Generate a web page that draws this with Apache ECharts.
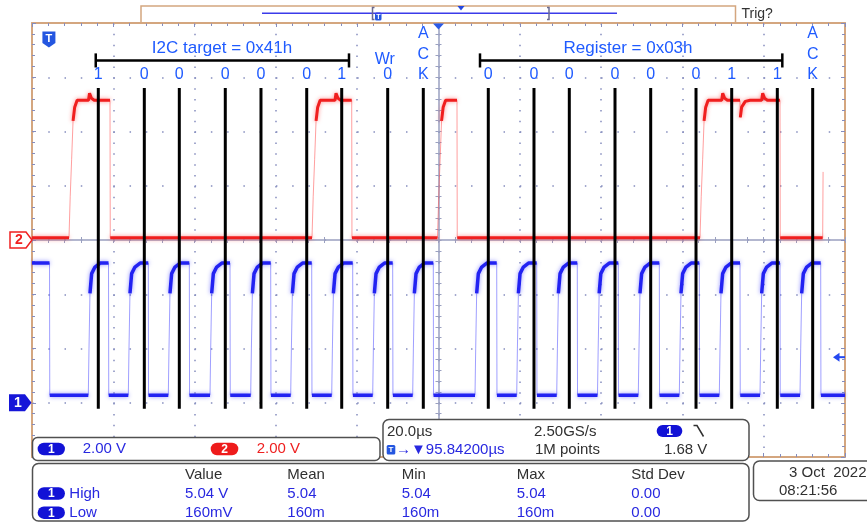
<!DOCTYPE html>
<html><head><meta charset="utf-8">
<script src="https://cdn.jsdelivr.net/npm/echarts@6/dist/echarts.min.js"></script>
<style>html,body{margin:0;padding:0;background:#fff;}#c{width:867px;height:523px;}</style>
</head><body><div id="c"></div>
<script>
// ================= DATA =================
// time axis: µs relative to the horizontal reference (centre), 20 µs/div
const timeRange = [-100, 100];
// Channel 1 (SCL, blue, 2 V/div, ground 3 div below centre)
const ch1Falls = [-95.69, -81.18, -71.39, -61.30, -51.29, -41.28, -31.19, -21.11, -11.27, -1.28,
                  14.32, 24.16, 34.14, 44.23, 54.32, 64.16, 74.17, 84.01, 94.02];
const ch1Rises = [-86.15, -76.31, -66.47, -56.21, -46.20, -36.36, -26.27, -16.19, -6.35,
                  8.98, 19.24, 29.08, 39.11, 49.15, 59.24, 69.08, 79.09, 88.93];
const ch1High = 5.15, ch1Low = 0.28;
const ch1RiseShape = [[0, 0], [0.17, 0.35], [0.41, 0.77], [0.82, 0.92], [1.64, 0.97], [2.9, 1.0]];
// Channel 2 (SDA, red, 2 V/div, ground at centre)
const ch2Rises = [-90.90, -31.12, -0.25, 64.33];
const ch2Falls = [-80.81, -21.35, 4.55, 84.01];
const ch2Bumps = [-86.10, -25.46, 69.67, 79.50];
const ch2Dips = [74.17];
const ch2Glitch = [94.51, 2.51];
const ch2High = 5.15, ch2Low = 0.08;
const ch2RiseShape = [[0, 0], [0.3, 0.3], [0.65, 0.57], [1.0, 0.85], [1.4, 0.95], [2.0, 1.0]];
const bumpShape = [[0, 0], [0.25, 0.26], [0.7, 0.08], [1.4, 0]];
const dipShape = [[0, 0], [0.08, -0.63], [0.4, -0.25], [1.3, -0.04], [2.5, 0]];
// Decoded-bit annotation lines (µs) and their labels
const bitTimes = [-83.69, -72.37, -63.76, -52.45, -43.67, -32.42, -23.81, -12.50, -3.74,
                  12.25, 23.49, 32.18, 43.42, 52.20, 63.35, 72.13, 83.35, 92.05];
const bitLabels = ['1','0','0','0','0','0','1','0','ACK','0','0','0','0','0','0','1','1','ACK'];
const bitLineSpan = [-3.11, 2.80];          // divisions from centre
const bitLabelLevel = 3.05, ackLevels = [3.81, 3.42, 3.04], titleLevel = 3.53;
const bracketLevel = 3.31, bracketCap = 0.13;
const bracketFrom = [-84.32, 10.21], bracketTo = [-22.02, 84.58];
const bracketTitles = ['I2C target = 0x41h', 'Register = 0x03h'];
const bracketTitleT = [-53.26, 46.62];
const wrLabelT = -13.23, wrLabelLevel = 3.33;
// scope settings / measurements
const trigLevelV = 1.68, trigPointT = -95.84;
const measHeaders = ['Value', 'Mean', 'Min', 'Max', 'Std Dev'];
const measHigh = ['5.04 V', '5.04', '5.04', '5.04', '0.00'];
const measLow = ['160mV', '160m', '160m', '160m', '0.00'];
const chScales = ['2.00 V', '2.00 V'];
const timebase = ['20.0µs', '→▼95.84200µs', '2.50GS/s', '1M points', '1.68 V'];
const dateTime = ['3 Oct  2022', '08:21:56'];

// ================= TRACE BUILDING =================
const fallTime = 0.06, bodyFrac = 0.75;
function buildTrace(H, L, startHigh, events, riseShape) {
  const pts = [[timeRange[0], startHigh ? H : L, true]];
  let level = startHigh ? H : L, ended = false;
  events.sort((a, b) => a.t - b.t).forEach(e => {
    if (e.k === 'fall') { pts.push([e.t, H, true], [e.t + fallTime, L, false]); level = L; }
    else if (e.k === 'rise') {
      pts.push([e.t, L, true]);
      for (let i = 1; i < riseShape.length; i++)
        pts.push([e.t + riseShape[i][0], L + riseShape[i][1] * (H - L), riseShape[i - 1][1] >= bodyFrac]);
      level = H;
    } else if (e.k === 'bump') {
      bumpShape.forEach(([dt, dv]) => pts.push([e.t + dt, H + dv, true]));
    } else if (e.k === 'dip') {
      dipShape.forEach(([dt, dv], i) => pts.push([e.t + dt, H + dv, i !== 1]));
    } else if (e.k === 'glitch') {
      pts.push([e.t, L, true], [e.t + 0.1, e.v, false]); ended = true;
    }
  });
  if (!ended) pts.push([timeRange[1], level, true]);
  return pts;
}
function bodyOf(pts) {
  const out = []; let open = false;
  for (let i = 1; i < pts.length; i++) {
    const p = pts[i], q = pts[i - 1];
    if (p[2]) { if (!open) { out.push([q[0], q[1]]); open = true; } out.push([p[0], p[1]]); }
    else if (open) { out.push([(q[0] + p[0]) / 2, null]); open = false; }
  }
  return out;
}
const ch1Pts = buildTrace(ch1High, ch1Low, true,
  ch1Falls.map(t => ({t, k: 'fall'})).concat(ch1Rises.map(t => ({t, k: 'rise'}))), ch1RiseShape);
const ch2Pts = buildTrace(ch2High, ch2Low, false,
  ch2Rises.map(t => ({t, k: 'rise'})).concat(ch2Falls.map(t => ({t, k: 'fall'})),
    ch2Bumps.map(t => ({t, k: 'bump'})), ch2Dips.map(t => ({t, k: 'dip'})),
    [{t: ch2Glitch[0], v: ch2Glitch[1], k: 'glitch'}]), ch2RiseShape);

// annotation texts
const annoTexts = [];
bitTimes.forEach((t, i) => {
  if (bitLabels[i] === 'ACK') ['A', 'C', 'K'].forEach((c, j) => annoTexts.push({t, y: ackLevels[j], text: c, size: 16}));
  else annoTexts.push({t, y: bitLabelLevel, text: bitLabels[i], size: 16});
});
annoTexts.push({t: wrLabelT, y: wrLabelLevel, text: 'Wr', size: 16});
bracketTitles.forEach((s, i) => annoTexts.push({t: bracketTitleT[i], y: titleLevel, text: s, size: 17}));

// ================= CHART =================
const FONT = '"Liberation Sans", Arial, sans-serif';
const dotColor = '#858dbe', tan = '#d4a67f', centreGray = '#9aa0c0', annoBlue = '#1f5bff';
const chart = echarts.init(document.getElementById('c'), null, {renderer: 'canvas'});
const hid = {show: false};
function xa(extra) { return Object.assign({type: 'value', min: timeRange[0], max: timeRange[1], interval: 20, axisLabel: hid, splitLine: hid}, extra); }
function ya(extra) { return Object.assign({type: 'value', min: -4, max: 4, interval: 1, axisLabel: hid, splitLine: hid}, extra); }
const minorT = (len, c) => ({show: true, splitNumber: 5, length: len, lineStyle: {color: c, width: 1}});

chart.setOption({
  animation: false,
  backgroundColor: '#fff',
  grid: {left: 32, top: 23, right: 22, bottom: 66, containLabel: false, outerBoundsMode: 'none'},
  xAxis: [
    xa({position: 'bottom', axisLine: {show: true, onZero: true, onZeroAxisIndex: 0, lineStyle: {color: centreGray, width: 1.5}},
        axisTick: {show: true, inside: false, length: 3, lineStyle: {color: centreGray}}, minorTick: minorT(3, centreGray),
        splitLine: {show: true, lineStyle: {color: dotColor, width: 1.5, opacity: 1, type: [1.5, 9.36]}}}),
    xa({position: 'bottom', axisLine: {show: false, onZero: true, onZeroAxisIndex: 0},
        axisTick: {show: true, inside: true, length: 3, lineStyle: {color: centreGray}}, minorTick: minorT(3, centreGray)}),
    xa({position: 'top', axisLine: {show: true, onZero: false, lineStyle: {color: tan, width: 2}},
        axisTick: {show: true, inside: true, length: 4, lineStyle: {color: dotColor}}, minorTick: minorT(3, dotColor)}),
    xa({position: 'bottom', axisLine: {show: true, onZero: false, lineStyle: {color: tan, width: 2}},
        axisTick: {show: true, inside: true, length: 4, lineStyle: {color: dotColor}}, minorTick: minorT(3, dotColor)})
  ],
  yAxis: [
    ya({position: 'left', axisLine: {show: true, onZero: true, onZeroAxisIndex: 0, lineStyle: {color: centreGray, width: 1.5}},
        axisTick: {show: true, inside: false, length: 3, lineStyle: {color: centreGray}}, minorTick: minorT(3, centreGray),
        splitLine: {show: true, lineStyle: {color: dotColor, width: 1.5, opacity: 1, type: [1.5, 14.76]}}}),
    ya({position: 'left', axisLine: {show: false, onZero: true, onZeroAxisIndex: 0},
        axisTick: {show: true, inside: true, length: 3, lineStyle: {color: centreGray}}, minorTick: minorT(3, centreGray)}),
    {type: 'value', min: -2, max: 14, interval: 2, show: false, position: 'left'},
    {type: 'value', min: -8, max: 8, interval: 2, show: false, position: 'left'},
    ya({position: 'left', axisLine: {show: true, onZero: false, lineStyle: {color: tan, width: 2}},
        axisTick: {show: true, inside: true, length: 4, lineStyle: {color: dotColor}}, minorTick: minorT(3, dotColor)}),
    ya({position: 'right', axisLine: {show: true, onZero: false, lineStyle: {color: tan, width: 2}},
        axisTick: {show: true, inside: true, length: 4, lineStyle: {color: dotColor}}, minorTick: minorT(3, dotColor)})
  ],
  series: [
    {type: 'line', name: 'ch2 edges', xAxisIndex: 0, yAxisIndex: 3, data: ch2Pts.map(p => [p[0], p[1]]), showSymbol: false, silent: true, z: 3,
     lineStyle: {color: 'rgba(255,80,80,0.55)', width: 1}},
    {type: 'line', name: 'ch2', xAxisIndex: 0, yAxisIndex: 3, data: bodyOf(ch2Pts), showSymbol: false, silent: true, connectNulls: false, z: 3,
     lineStyle: {color: '#f01e1e', width: 3, shadowBlur: 4, shadowColor: 'rgba(255,40,40,0.55)'}},
    {type: 'line', name: 'ch1 edges', xAxisIndex: 0, yAxisIndex: 2, data: ch1Pts.map(p => [p[0], p[1]]), showSymbol: false, silent: true, z: 4,
     lineStyle: {color: 'rgba(80,80,255,0.55)', width: 1}},
    {type: 'line', name: 'ch1', xAxisIndex: 0, yAxisIndex: 2, data: bodyOf(ch1Pts), showSymbol: false, silent: true, connectNulls: false, z: 4,
     lineStyle: {color: '#2222f2', width: 3.5, shadowBlur: 4, shadowColor: 'rgba(40,40,255,0.5)'}},
    {type: 'custom', name: 'bit lines', xAxisIndex: 0, yAxisIndex: 0, z: 6, silent: true,
     data: bitTimes.map(t => [t, bitLineSpan[0], bitLineSpan[1]]), encode: {x: 0, y: [1, 2]},
     renderItem: (params, api) => {
       const a = api.coord([api.value(0), api.value(1)]), b = api.coord([api.value(0), api.value(2)]);
       return {type: 'line', shape: {x1: a[0], y1: a[1], x2: b[0], y2: b[1]}, style: {stroke: '#000', lineWidth: 3}};
     }},
    {type: 'custom', name: 'brackets', xAxisIndex: 0, yAxisIndex: 0, z: 6, silent: true,
     data: bracketFrom.map((f, i) => [f, bracketTo[i], bracketLevel]), encode: {x: [0, 1], y: 2},
     renderItem: (params, api) => {
       const y = api.value(2), ch = [];
       const a = api.coord([api.value(0), y]), b = api.coord([api.value(1), y]);
       ch.push({type: 'line', shape: {x1: a[0], y1: a[1], x2: b[0], y2: b[1]}, style: {stroke: '#000', lineWidth: 2.5}});
       [api.value(0), api.value(1)].forEach(t => {
         const p = api.coord([t, y + bracketCap]), q = api.coord([t, y - bracketCap]);
         ch.push({type: 'line', shape: {x1: p[0], y1: p[1], x2: q[0], y2: q[1]}, style: {stroke: '#000', lineWidth: 2.5}});
       });
       return {type: 'group', children: ch};
     }},
    {type: 'custom', name: 'labels', xAxisIndex: 0, yAxisIndex: 0, z: 7, silent: true,
     data: annoTexts.map(a => [a.t, a.y]), encode: {x: 0, y: 1},
     renderItem: (params, api) => {
       const it = annoTexts[params.dataIndex];
       const p = api.coord([api.value(0), api.value(1)]);
       return {type: 'text', x: p[0], y: p[1], style: {text: it.text, fill: annoBlue, font: it.size + 'px ' + FONT,
         align: 'center', verticalAlign: 'middle', textAlign: 'center', textVerticalAlign: 'middle'}};
     }}
  ]
});

// ================= SCOPE UI DECORATIONS =================
const yCh1 = chart.convertToPixel({yAxisIndex: 2}, 0);
const yCh2 = chart.convertToPixel({yAxisIndex: 3}, 0);
const yTrig = chart.convertToPixel({yAxisIndex: 2}, trigLevelV);
const xRef = chart.convertToPixel({xAxisIndex: 0}, 0);
const xTrig = chart.convertToPixel({xAxisIndex: 0}, trigPointT);
const G = [];
const boxStroke = '#505050', uiBlue = '#2828e0', uiDark = '#303030', pillBlue = '#1212d6', pillRed = '#ee1b1b';
function rect(x, y, w, h, r, stroke, fill, lw) { G.push({type: 'rect', z: 100, shape: {x, y, width: w, height: h, r}, style: {fill, stroke, lineWidth: lw}}); }
function text(x, y, s, fill, font, align) {
  G.push({type: 'text', z: 102, x, y, style: {text: s, fill, font, align: align || 'left', verticalAlign: 'middle',
    textAlign: align || 'left', textVerticalAlign: 'middle'}});
}
function poly(points, fill, stroke, lw) { G.push({type: 'polygon', z: 101, shape: {points}, style: {fill, stroke, lineWidth: lw || 0}}); }
function pline(points, stroke, lw) { G.push({type: 'polyline', z: 101, shape: {points}, style: {fill: null, stroke, lineWidth: lw}}); }
function pill(cx, cy, w, h, color, s) {
  rect(cx - w / 2, cy - h / 2, w, h, h / 2, null, color, 0);
  text(cx, cy + 0.5, s, '#fff', 'bold 12px ' + FONT, 'center');
}
const f15 = '15px ' + FONT;
// top overview bar
rect(141, 6, 594.5, 16.7, 0, tan, '#fff', 1.5);
pline([[262, 13.3], [617, 13.3]], '#3b3bea', 1.5);
pline([[374.5, 7.5], [372.5, 7.5], [372.5, 19.5], [374.5, 19.5]], '#6a6a90', 1.5);
pline([[547, 7.5], [549, 7.5], [549, 19.5], [547, 19.5]], '#6a6a90', 1.5);
rect(375, 12.5, 6.5, 8, 1.5, null, '#2456e0', 0);
text(378.3, 16.7, 'T', '#fff', 'bold 7px ' + FONT, 'center');
poly([[457.5, 6], [464.5, 6], [461, 10.5]], '#2448e0');
text(741.5, 13.8, 'Trig?', '#333', '14px ' + FONT);
// trigger icon (trigger point) and reference marker
poly([[xTrig - 6.5, 31.5], [xTrig + 6.5, 31.5], [xTrig + 6.5, 43], [xTrig, 47.5], [xTrig - 6.5, 43]], '#2456e0');
text(xTrig, 38.5, 'T', '#fff', 'bold 11px ' + FONT, 'center');
poly([[xRef - 5.5, 23.5], [xRef + 5.5, 23.5], [xRef, 29.5]], '#2a5ae8');
// channel ground markers
poly([[10, yCh2 - 8], [26, yCh2 - 8], [32, yCh2], [26, yCh2 + 8], [10, yCh2 + 8]], '#fff', '#f02020', 1.5);
text(19, yCh2 + 0.5, '2', '#f02020', 'bold 14px ' + FONT, 'center');
poly([[9, yCh1 - 8.5], [25, yCh1 - 8.5], [31.5, yCh1], [25, yCh1 + 8.5], [9, yCh1 + 8.5]], '#1616d8');
text(18, yCh1 + 0.5, '1', '#fff', 'bold 14px ' + FONT, 'center');
// trigger level arrow
poly([[833, yTrig], [839.5, yTrig - 4.5], [839.5, yTrig + 4.5]], '#2448f0');
pline([[838, yTrig], [845, yTrig]], '#2448f0', 2);
// box A: channel scales
rect(32.5, 437.5, 347.5, 23, 5, boxStroke, '#fff', 1.5);
pill(51.3, 449, 27.3, 12.5, pillBlue, '1');
text(82.7, 449, chScales[0], uiBlue, f15);
pill(224.5, 449, 27.6, 12.5, pillRed, '2');
text(256.7, 449, chScales[1], '#ee2020', f15);
// box B: timebase / trigger
rect(383, 419.5, 366, 41, 6, boxStroke, '#fff', 1.5);
text(387, 431.5, timebase[0], uiDark, f15);
text(534, 431.5, timebase[2], uiDark, f15);
pill(669.5, 431, 25.6, 12, pillBlue, '1');
pline([[693.5, 425.5], [697, 425.5], [703.5, 436.5]], uiDark, 1.5);
rect(386.7, 445, 8.6, 9.6, 1.5, null, '#2456e0', 0);
text(391, 450, 'T', '#fff', 'bold 8px ' + FONT, 'center');
text(396, 450, timebase[1], uiBlue, f15);
text(535, 450, timebase[3], uiDark, f15);
text(664, 450, timebase[4], uiDark, f15);
// box C: measurements
rect(32.5, 463.5, 716.5, 57.5, 6, boxStroke, '#fff', 1.5);
const colX = [185, 287.3, 401.7, 516.7, 631.3];
measHeaders.forEach((h, i) => text(colX[i], 474.5, h, uiDark, f15));
pill(51.3, 493.5, 27.3, 12.5, pillBlue, '1');
text(69.3, 493.5, 'High', uiBlue, f15);
measHigh.forEach((v, i) => text(colX[i], 493.5, v, uiBlue, f15));
pill(51.3, 512.7, 27.3, 12.5, pillBlue, '1');
text(69.3, 512.7, 'Low', uiBlue, f15);
measLow.forEach((v, i) => text(colX[i], 512.7, v, uiBlue, f15));
// box D: date/time
rect(753.5, 461, 125, 39.5, 6, boxStroke, '#fff', 1.5);
text(789, 472.7, dateTime[0], uiDark, f15);
text(779, 490.7, dateTime[1], uiDark, f15);

chart.setOption({graphic: {elements: G}});
</script></body></html>
